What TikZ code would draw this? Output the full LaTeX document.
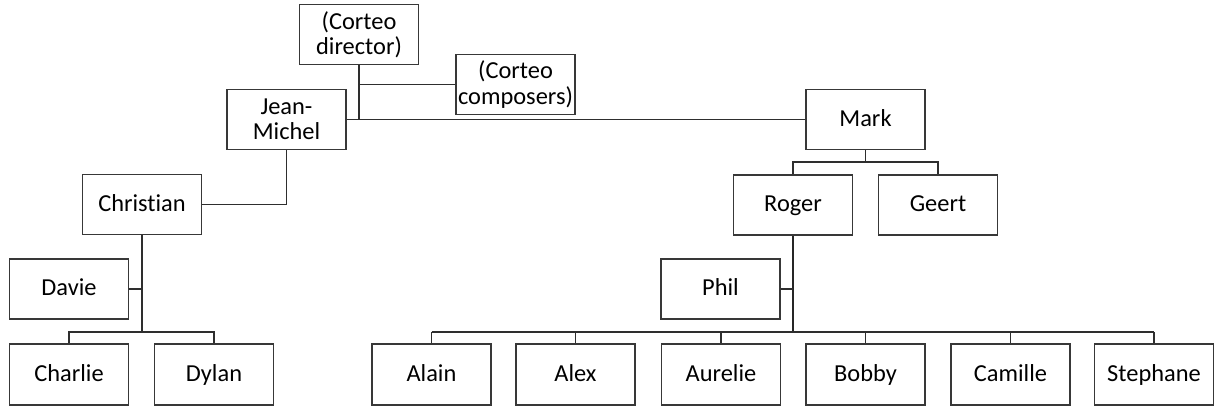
\documentclass[tikz,border=0pt]{standalone}
\usepackage{fontspec}
\setmainfont{Carlito}[Ligatures=NoCommon]
\begin{document}
\begin{tikzpicture}[x=0.5pt,y=-0.5pt,
  box/.style={draw=black!78, line width=0.65pt, fill=white,
    minimum width=59.5pt, minimum height=30pt, inner sep=0pt,
    font=\fontsize{12.2}{12.6}\selectfont},
  onebox/.style={box, text height=8.9pt, text depth=2.1pt},
  twobox/.style={box, align=center},
  lowbox/.style={onebox, minimum height=30.5pt},
  link/.style={draw=black!82, line width=0.65pt},
  trunk/.style={draw=black!85, line width=1pt}]
\useasboundingbox (0,0) rectangle (1214,406);

% people
\node[twobox] (director)  at (359,34.5)   {(Corteo\\director)};
\node[twobox] (composers) at (515.5,84.5) {(Corteo\\composers)};
\node[twobox] (jm)        at (286.5,119.5){Jean-\\Michel};
\node[onebox] (mark)      at (865.5,119.5){Mark};
\node[onebox] (christian) at (142,204.5)  {Christian};
\node[onebox] (roger)     at (793,205)    {Roger};
\node[onebox] (geert)     at (938,205)    {Geert};
\node[onebox] (davie)     at (69,289)     {Davie};
\node[onebox] (phil)      at (720.5,289)  {Phil};
\node[lowbox] (charlie)  at (69,374.5)     {Charlie};
\node[lowbox] (dylan)    at (214,374.5)    {Dylan};
\node[lowbox] (alain)    at (431.5,374.5)  {Alain};
\node[lowbox] (alex)     at (575.5,374.5)  {Alex};
\node[lowbox] (aurelie)  at (721,374.5)    {Aurelie};
\node[lowbox] (bobby)    at (865.5,374.5)  {Bobby};
\node[lowbox] (camille)  at (1010.5,374.5) {Camille};
\node[lowbox] (stephane) at (1154,374.5)   {Stephane};

% bus levels
\coordinate (markbus) at (866,162);
\coordinate (lowbus)  at (0,332);

% top group
\draw[link] (jm.east) -- (mark.west);
\draw[link] (director.south) -- (director.south |- jm.east);
\draw[link] (director.south |- composers.west) -- (composers.west);

% Mark's branch
\draw[link] (mark.south) -- (mark.south |- markbus);
\draw[link] (roger.north) -- (roger.north |- markbus)
  -- (geert.north |- markbus) -- (geert.north);

% Jean-Michel's branch
\draw[link] (jm.south) |- (christian.east);
\draw[link] (christian.south) -- (christian.south |- lowbus);
\draw[link] (davie.east) -- (davie.east -| christian.south);
\draw[link] (charlie.north) -- (charlie.north |- lowbus)
  -- (dylan.north |- lowbus) -- (dylan.north);

% Roger's branch
\draw[trunk] (roger.south) -- (roger.south |- lowbus);
\draw[link] (phil.east) -- (phil.east -| roger.south);
\draw[link] (alain.north |- lowbus) -- (stephane.north |- lowbus);
\foreach \n in {alain,alex,aurelie,bobby,camille,stephane}
  \draw[link] (\n.north) -- (\n.north |- lowbus);
\end{tikzpicture}
\end{document}
